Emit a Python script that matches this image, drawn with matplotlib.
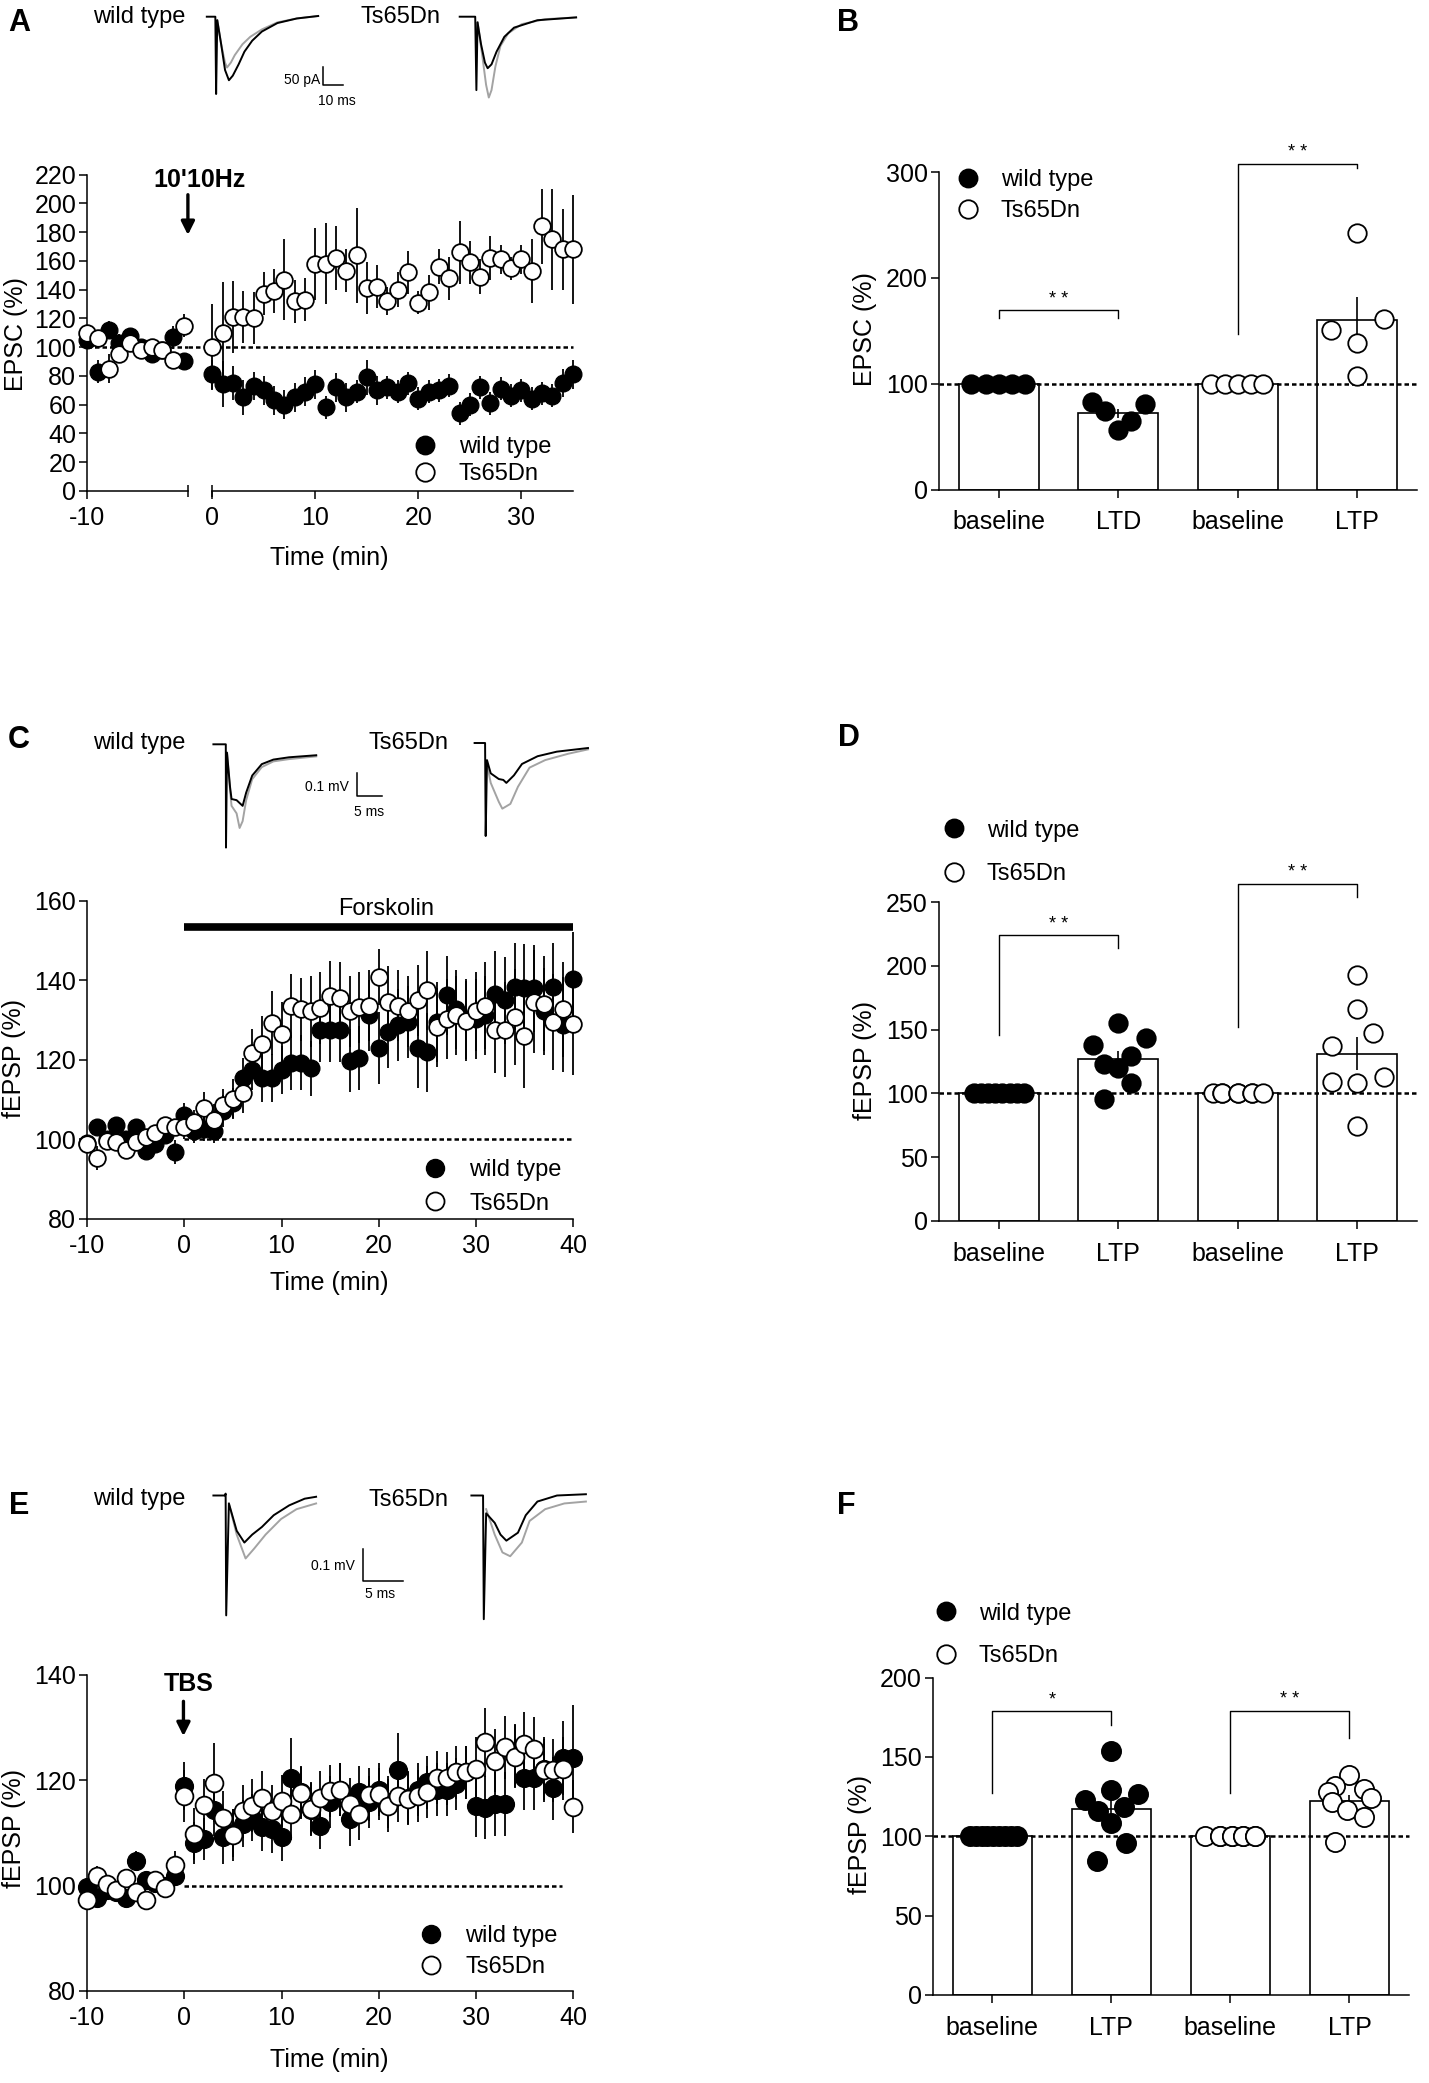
import numpy as np
import matplotlib
matplotlib.use("Agg")
import matplotlib.pyplot as plt
from matplotlib.lines import Line2D

plt.rcParams['font.family'] = ['Liberation Sans', 'DejaVu Sans']
plt.rcParams['axes.unicode_minus'] = False
plt.rcParams['axes.linewidth'] = 1.1
plt.rcParams['xtick.major.width'] = 1.1
plt.rcParams['ytick.major.width'] = 1.1
plt.rcParams['xtick.major.size'] = 6
plt.rcParams['ytick.major.size'] = 6
plt.rcParams['xtick.labelsize'] = 18
plt.rcParams['ytick.labelsize'] = 18

# ---------------- data ----------------
# panel A : EPSC time course (two x segments)
a_pre_t = [-10, -9, -8, -7, -6, -5, -4, -3, -2, -1]
a_wt_pre = [105, 83, 112, 103, 108, 100, 95, 98, 107, 90]
a_wt_pre_sem = [6, 8, 6, 6, 5, 5, 6, 5, 8, 6]
a_ts_pre = [110, 106, 85, 95, 103, 98, 100, 98, 91, 115]
a_ts_pre_sem = [5, 6, 10, 6, 5, 5, 4, 4, 5, 8]
a_post_t = list(range(0, 36))
a_wt_post = [81, 74, 75, 65, 73, 70, 63, 60, 65, 69, 74, 58, 72, 65, 69, 79, 70, 72,
             69, 75, 64, 69, 70, 73, 54, 60, 72, 61, 71, 66, 70, 64, 68, 66, 75, 81]
a_wt_post_sem = [10, 16, 12, 12, 10, 10, 10, 10, 10, 10, 10, 8, 10, 10, 8, 12, 10, 8,
                 8, 8, 8, 8, 8, 8, 8, 8, 8, 8, 8, 8, 8, 8, 8, 8, 10, 10]
a_ts_post = [100, 110, 121, 121, 120, 137, 139, 147, 132, 133, 158, 158, 162, 153, 164, 141, 142, 132,
             140, 152, 131, 138, 156, 148, 166, 159, 149, 162, 161, 155, 161, 153, 184, 175, 168, 168]
a_ts_post_sem = [30, 35, 25, 18, 18, 15, 15, 28, 15, 15, 25, 28, 22, 15, 33, 18, 15, 10,
                 12, 15, 8, 12, 12, 15, 22, 15, 12, 15, 10, 8, 10, 22, 26, 35, 28, 38]

# panel C : forskolin fEPSP
c_t = list(range(-10, 41))
c_wt = [99, 103, 100, 103.5, 100, 103, 97, 98.7, 101, 96.8, 106, 102, 102.5, 102, 107, 109,
        115.4, 117.4, 115.4, 115.4, 117.4, 119.3, 119.3, 117.8, 127.4, 127.4, 127.4, 119.8,
        120.5, 131.2, 123, 127, 128.8, 129.5, 123, 121.9, 129.5, 136.2, 132.7, 130.3, 130.3,
        131.2, 136.5, 135, 138.4, 138.1, 138, 132.2, 138.4, 128.8, 140.3]
c_wt_sem = [2, 2, 2, 2, 2, 2, 2, 2, 2, 3, 3, 3, 3, 3, 4, 4,
            5, 5, 6, 6, 6, 7, 7, 7, 8, 8, 8, 8,
            8, 9, 9, 9, 9, 9, 10, 10, 10, 10, 10, 10, 10,
            10, 11, 11, 11, 11, 11, 11, 11, 12, 12]
c_ts = [98.7, 95.3, 99.6, 99.2, 97.2, 99.2, 100.6, 101.5, 103.5, 103, 103, 104.4, 107.8, 104.9,
        108.7, 110.2, 111.6, 121.7, 124, 129.3, 126.6, 133.6, 132.7, 132.2, 133, 136, 135.6,
        132.2, 133.2, 133.6, 140.8, 134.6, 133.6, 132.2, 135, 137.5, 128.2, 130.3, 131.2,
        129.8, 132.2, 133.6, 127.6, 127.6, 130.8, 126, 134.6, 134.1, 129.5, 132.7, 129.1]
c_ts_sem = [2, 3, 2, 2, 2, 2, 2, 2, 2, 2, 3, 3, 4, 4,
            4, 5, 5, 6, 7, 8, 8, 8, 8, 9, 9, 9, 9,
            9, 9, 9, 7, 9, 9, 9, 9, 10, 10, 10, 10,
            10, 10, 11, 11, 12, 12, 13, 13, 12, 12, 12, 13]
forskolin_on, forskolin_off, forskolin_level = 0, 40, 153.5

# panel E : TBS fEPSP
e_t = list(range(-10, 41))
e_wt = [99.7, 97.7, 99.1, 98.8, 97.7, 104.7, 101, 100.6, 99.9, 101.8, 118.9, 108.1, 108.8,
        114.4, 109.2, 110, 111.8, 112.9, 111.1, 110.7, 109.2, 120.5, 117.8, 114.4, 111.4,
        115.9, 118.2, 112.6, 117.8, 115.9, 118.2, 115.9, 121.9, 116.7, 118.2, 119.6, 118.2,
        118.2, 119.3, 121.5, 115.2, 114.8, 115.5, 115.5, 124.7, 120.4, 120.4, 122.2, 118.5,
        124.3, 124.3]
e_wt_sem = [1.5, 2, 1.5, 1.5, 1.5, 1.8, 1.5, 1.5, 1.5, 1.8, 4.5, 4, 4,
            5, 5, 4.5, 4.5, 4.5, 4.5, 4.5, 4.5, 7.5, 5, 5, 4.5,
            5, 5, 5, 5, 5, 5, 5, 7, 5, 5, 5, 5,
            5, 5, 5, 6, 6, 6, 6, 6, 6, 6, 6, 6,
            7, 10]
e_ts = [97.3, 101.8, 100.3, 99.2, 101.4, 98.8, 97.3, 101, 99.5, 104, 117, 109.8, 115.3, 119.5,
        112.9, 109.6, 114.1, 115.2, 116.7, 114.1, 116.1, 113.7, 117.6, 114.6, 116.7, 118,
        118.2, 115.5, 113.7, 117.3, 117.4, 115.2, 117, 116.5, 117, 117.8, 120.5, 120.4,
        121.5, 121.5, 122.2, 127.2, 123.7, 126.3, 124.5, 126.9, 126, 121.9, 121.9, 122.2, 115]
e_ts_sem = [2, 2, 1.5, 1.5, 1.5, 1.5, 1.5, 1.5, 1.5, 2.5, 5, 5, 5, 7.5,
            5, 5, 5, 5, 5, 5, 5, 5, 5, 5, 5, 5,
            5, 5, 5, 5, 5, 5, 5, 5, 5, 5, 5, 5,
            5, 5, 6, 6.6, 6, 6, 6, 6, 6, 6, 6, 6, 5]

series_names = ['wild type', 'Ts65Dn']

# bar panels
b_labels = ['baseline', 'LTD', 'baseline', 'LTP']
b_means = [100, 72, 100, 160]
b_sems = [0, 4.5, 0, 22]
b_points = [[100, 100, 100, 100, 100], [83, 74, 56, 65, 81],
            [100, 100, 100, 100, 100], [151, 242, 138, 107, 161]]
b_jitter = [[-0.23, -0.11, 0, 0.11, 0.22], [-0.22, -0.11, 0, 0.11, 0.22],
            [-0.22, -0.11, 0, 0.11, 0.21], [-0.22, 0, 0, 0, 0.22]]
b_brackets = [(0, 1, 169.5, 162.5, 162.5, '* *'), (2, 3, 308, 147, 303.5, '* *')]

d_labels = ['baseline', 'LTP', 'baseline', 'LTP']
d_means = [100, 126.6, 100, 131]
d_sems = [0, 6.5, 0, 13]
d_points = [[100] * 8, [138, 155, 143.6, 123, 129, 120, 108, 96],
            [100] * 8, [193, 166, 147, 137, 109, 108, 113, 74.5]]
d_jitter = [[-0.21, -0.15, -0.09, -0.03, 0.03, 0.09, 0.15, 0.21],
            [-0.21, 0, 0.23, -0.12, 0.11, 0, 0.11, -0.12],
            [-0.21, -0.13, -0.13, 0, 0, 0.12, 0.12, 0.21],
            [0, 0, 0.13, -0.21, -0.21, 0, 0.22, 0]]
d_brackets = [(0, 1, 224, 146, 214, '* *'), (2, 3, 264.4, 152, 254, '* *')]

f_labels = ['baseline', 'LTP', 'baseline', 'LTP']
f_means = [100, 117.2, 100, 122.2]
f_sems = [0, 5.5, 0, 4]
f_points = [[100] * 9, [153.7, 128.9, 123, 126.4, 115.7, 118.2, 108.2, 95.8, 84.6],
            [100] * 9, [138.8, 131.8, 129.9, 128.1, 124.4, 121.9, 116.4, 112.4, 96.3]]
f_jitter = [[-0.19, -0.14, -0.09, -0.04, 0.01, 0.06, 0.11, 0.16, 0.21],
            [0, 0, -0.22, 0.22, -0.11, 0.11, 0, 0.12, -0.12],
            [-0.21, -0.09, -0.09, 0.01, 0.01, 0.11, 0.11, 0.21, 0.21],
            [0, -0.12, 0.12, -0.18, 0.18, -0.15, -0.02, 0.12, -0.12]]
f_brackets = [(0, 1, 179, 127.4, 170.4, '*'), (2, 3, 179, 127, 161.7, '* *')]

# example traces (time ms, amplitude) black = before, grey = after induction
a_wt_black = ([0, 4.4, 4.8, 5.4, 7.4, 9.4, 11.4, 13.4, 16.4, 19.4, 23.4, 28.4, 36.4, 46.4, 57.4],
              [0, 0, -219, -10, -78, -151, -180, -167, -135, -99, -68, -42, -18, -5, 2])
a_wt_grey = ([5.4, 7.4, 9.4, 10.4, 12.4, 14.4, 18.4, 22.4, 28.4, 36.4, 46.4, 57.4],
             [-10, -78, -130, -144, -130, -109, -78, -57, -36, -16, -5, 2])
a_ts_black = ([0, 8, 8.6, 9.2, 11, 13, 14.4, 16.4, 19, 23, 28, 40, 60],
              [0, 0, -208, -16, -78, -130, -146, -135, -99, -57, -31, -10, -2])
a_ts_grey = ([9.2, 11.6, 13.6, 15, 16.4, 18.4, 21, 25, 32, 44, 60],
             [-16, -109, -193, -229, -208, -141, -83, -47, -21, -7, -2])

c_wt_black = ([0, 2.46, 2.5, 2.7, 3.3, 3.6, 4.6, 5.8, 6.5, 7.7, 9.6, 11.9, 15, 20.4],
              [0, 0, -0.453, -0.037, -0.187, -0.24, -0.245, -0.27, -0.212, -0.137, -0.087,
               -0.067, -0.057, -0.048])
c_wt_grey = ([2.7, 3.3, 3.6, 4.6, 5.2, 5.8, 6.5, 7.7, 9.6, 11.9, 15, 20.4],
             [-0.037, -0.2, -0.27, -0.303, -0.367, -0.337, -0.245, -0.153, -0.1, -0.075, -0.065,
              -0.053])
c_ts_black = ([0, 2.08, 2.2, 2.46, 3.2, 4.8, 5.7, 6.3, 7.8, 9.4, 12.5, 16.3, 22.5],
              [0, 0, -0.408, -0.075, -0.133, -0.158, -0.162, -0.175, -0.142, -0.092, -0.058,
               -0.038, -0.022])
c_ts_grey = ([2.46, 3.2, 4.8, 5.5, 7.1, 8.6, 10.9, 14, 18.6, 22.5],
             [-0.092, -0.175, -0.258, -0.288, -0.267, -0.192, -0.108, -0.075, -0.047, -0.028])

e_wt_black = ([0, 1.43, 1.5, 1.57, 1.9, 2.86, 3.8, 4.76, 5.95, 7.4, 9.3, 11.2, 12.6],
              [0, 0, 0.006, -0.377, -0.025, -0.111, -0.148, -0.123, -0.099, -0.062, -0.031,
               -0.01, -0.004])
e_wt_grey = ([1.9, 2.86, 3.95, 5.0, 6.4, 8.3, 10.2, 12.6],
             [-0.025, -0.123, -0.198, -0.167, -0.123, -0.074, -0.043, -0.025])
e_ts_black = ([0, 1.43, 1.52, 1.81, 2.86, 3.57, 4.29, 5.71, 6.67, 8.1, 10.5, 14.05],
              [0, 0, -0.389, -0.056, -0.086, -0.123, -0.142, -0.117, -0.062, -0.019, 0, 0.004])
e_ts_grey = ([1.81, 2.86, 3.81, 4.76, 6.19, 7.14, 9.05, 11.4, 14.05],
             [-0.043, -0.123, -0.179, -0.191, -0.148, -0.080, -0.043, -0.025, -0.019])

# ---------------- figure ----------------
W, H = 1429, 2083
fig = plt.figure(figsize=(W / 100, H / 100), dpi=100)
DASH = (0, (1.8, 1.2))
FS = 17


def rect(x0, y0, x1, y1):
    return [x0 / W, 1 - y1 / H, (x1 - x0) / W, (y1 - y0) / H]


def style(ax):
    for s in ('top', 'right'):
        ax.spines[s].set_visible(False)
    ax.patch.set_visible(False)
    ax.tick_params(direction='out', pad=2)
    ax.tick_params(axis='x', pad=5)


def draw_series(ax, t, wt, wt_sem, ts, ts_sem, ms):
    t = np.asarray(t)
    for vals, sem in ((wt, wt_sem), (ts, ts_sem)):
        eb = ax.errorbar(t, vals, yerr=sem, fmt='none', ecolor='black',
                         elinewidth=1.3, capsize=0, zorder=2)
        for c in eb.lines[2]:
            c.set_clip_on(False)
    ax.plot(t, wt, 'o', ms=ms, mfc='black', mec='black', mew=1.0, zorder=3, clip_on=False)
    ax.plot(t, ts, 'o', ms=ms, mfc='white', mec='black', mew=1.3, zorder=4, clip_on=False)


def legend_at(ax, xm, ymid, spacing, ms, pad=0.95):
    handles = [Line2D([], [], ls='none', marker='o', ms=ms, mfc='black', mec='black'),
               Line2D([], [], ls='none', marker='o', ms=ms, mfc='white', mec='black', mew=1.3)]
    px, py = ax.transData.transform((xm, ymid))
    fx, fy = ax.transAxes.inverted().transform((px, py))
    fx -= 0.5 * FS * 100 / 72 / ax.bbox.width
    ax.legend(handles, series_names, loc='center left', bbox_to_anchor=(fx, fy),
              frameon=False, fontsize=FS, handlelength=1.0, handletextpad=pad,
              labelspacing=spacing, borderpad=0, borderaxespad=0)


def trace_axes(x0, y0, sx, sy, xlim, ylim):
    ax = fig.add_axes(rect(x0 + xlim[0] * sx, y0 - ylim[1] * sy,
                           x0 + xlim[1] * sx, y0 - ylim[0] * sy))
    ax.set_xlim(xlim)
    ax.set_ylim(ylim)
    ax.axis('off')
    return ax


def draw_trace(ax, black, grey):
    ax.plot(grey[0], grey[1], color='#a3a3a3', lw=1.4, clip_on=False)
    ax.plot(black[0], black[1], color='black', lw=1.4, clip_on=False)


def scale_bar(ax, x, y, dx, dy, ylab, xlab, ylab_pos, xlab_pos):
    ax.plot([x, x, x + dx], [y + dy, y, y], color='black', lw=1.1, clip_on=False)
    ax.text(ylab_pos[0], ylab_pos[1], ylab, ha='right', va='center', fontsize=10)
    ax.text(xlab_pos[0], xlab_pos[1], xlab, ha='center', va='center', fontsize=10)


def bar_panel(ax, labels, means, sems, points, jitter, ymax, ystep, brackets, ms):
    x = np.arange(len(labels))
    ax.bar(x, means, width=0.667, color='white', edgecolor='black', linewidth=1.2, zorder=1)
    ax.plot([-0.5, 3.5], [100, 100], color='black', lw=1.8, ls=DASH, zorder=2, clip_on=False)
    for i in x:
        if sems[i] > 0:
            ax.errorbar(i, means[i], yerr=sems[i], fmt='none', ecolor='black',
                        elinewidth=1.2, capsize=0, zorder=2.5)
        filled = i < 2
        ax.plot(i + np.asarray(jitter[i]), points[i], 'o', ms=ms,
                mfc='black' if filled else 'white', mec='black', mew=1.3,
                zorder=3, clip_on=False)
    ax.set_xlim(-0.5, 3.5)
    ax.set_ylim(0, ymax)
    ax.set_xticks(x)
    ax.set_xticklabels(labels)
    ax.set_yticks(np.arange(0, ymax + 1, ystep))
    for i0, i1, ytop, yl, yr, star in brackets:
        ax.plot([i0, i0, i1, i1], [yl, ytop, ytop, yr], color='black', lw=1.0, clip_on=False)
        ax.annotate(star, ((i0 + i1) / 2, ytop), xytext=(0, 8), textcoords='offset points',
                    ha='center', va='center', fontsize=13, annotation_clip=False)
    style(ax)
    ax.tick_params(axis='x', pad=9)


# ---- panel A ----
axl = fig.add_axes(rect(87.3, 174.6, 187.9, 490.8))
axr = fig.add_axes(rect(212.3, 174.6, 572.9, 490.8))
left_end = -0.6
for ax in (axl, axr):
    style(ax)
    ax.set_ylim(0, 220)
axl.set_xlim(-10, left_end)
axr.set_xlim(0, 35)
axl.set_yticks(np.arange(0, 221, 20))
axl.set_xticks([-10])
axr.set_xticks([0, 10, 20, 30])
axr.spines['left'].set_visible(False)
axr.tick_params(axis='y', left=False, labelleft=False)
axl.plot([-10, left_end], [100, 100], color='black', lw=1.8, ls=DASH, zorder=1)
axr.plot([-2.38, 35], [100, 100], color='black', lw=1.8, ls=DASH, zorder=1, clip_on=False)
axl.plot([left_end], [0], marker='|', ms=9, mew=1.1, color='black', clip_on=False)
axr.plot([0], [0], marker='|', ms=9, mew=1.1, color='black', clip_on=False)
draw_series(axl, a_pre_t, a_wt_pre, a_wt_pre_sem, a_ts_pre, a_ts_pre_sem, 12)
draw_series(axr, a_post_t, a_wt_post, a_wt_post_sem, a_ts_post, a_ts_post_sem, 12)
axl.annotate('', xy=(left_end, 178), xytext=(left_end, 206), annotation_clip=False,
             arrowprops=dict(arrowstyle='-|>', color='black', lw=2.4, mutation_scale=20,
                             shrinkA=0, shrinkB=0))
axl.text(0.48, 216, "10'10Hz", ha='center', va='center', fontsize=18, fontweight='bold',
         zorder=10)
legend_at(axr, 20.6, 21, 0.2, 13.3)

# ---- panel C ----
axc = fig.add_axes(rect(87.3, 901, 572.9, 1218.5))
style(axc)
axc.plot([0, 40], [100, 100], color='black', lw=1.8, ls=DASH, zorder=1)
draw_series(axc, c_t, c_wt, c_wt_sem, c_ts, c_ts_sem, 12)
axc.plot([forskolin_on, forskolin_off], [forskolin_level, forskolin_level], color='black',
         lw=5.5, solid_capstyle='butt', clip_on=False)
axc.text((forskolin_on + forskolin_off) / 2 + 0.8, 157.9, 'Forskolin', ha='center',
         va='center', fontsize=FS)
axc.set_xlim(-10, 40)
axc.set_ylim(80, 160)
axc.set_xticks(np.arange(-10, 41, 10))
axc.set_yticks(np.arange(80, 161, 20))
legend_at(axc, 25.8, 88, 0.5, 13)

# ---- panel E ----
axe = fig.add_axes(rect(87.3, 1675, 572.9, 1991))
style(axe)
axe.plot([0, 38.9], [100, 100], color='black', lw=1.8, ls=DASH, zorder=1)
draw_series(axe, e_t, e_wt, e_wt_sem, e_ts, e_ts_sem, 12.8)
axe.annotate('', xy=(-0.1, 128.4), xytext=(-0.1, 135), annotation_clip=False,
             arrowprops=dict(arrowstyle='-|>', color='black', lw=2.4, mutation_scale=20,
                             shrinkA=0, shrinkB=0))
axe.text(0.4, 138.3, 'TBS', ha='center', va='center', fontsize=18, fontweight='bold')
axe.set_xlim(-10, 40)
axe.set_ylim(80, 140)
axe.set_xticks(np.arange(-10, 41, 10))
axe.set_yticks(np.arange(80, 141, 20))
legend_at(axe, 25.4, 87.45, 0.4, 13)

# ---- bar panels ----
axb = fig.add_axes(rect(939, 172, 1417, 489.5))
bar_panel(axb, b_labels, b_means, b_sems, b_points, b_jitter, 300, 100, b_brackets, 13.3)
legend_at(axb, -0.26, 277.5, 0.38, 13.3, pad=0.9)

axd = fig.add_axes(rect(939, 902, 1417, 1221))
bar_panel(axd, d_labels, d_means, d_sems, d_points, d_jitter, 250, 50, d_brackets, 13.3)
legend_at(axd, -0.376, 289, 0.9, 13.3, pad=0.9)

axf = fig.add_axes(rect(932.7, 1677.6, 1409, 1995))
bar_panel(axf, f_labels, f_means, f_sems, f_points, f_jitter, 200, 50, f_brackets, 13.8)
legend_at(axf, -0.39, 227, 0.85, 13.3, pad=0.9)

# ---- traces ----
t1 = trace_axes(206.8, 16.7, 1.94, 0.353, (0, 80), (-260, 10))
draw_trace(t1, a_wt_black, a_wt_grey)
scale_bar(t1, 60, -193, 10, 50, '50 pA', '10 ms', (58.5, -180), (67, -240))
t2 = trace_axes(459.7, 16.7, 1.94, 0.353, (0, 80), (-260, 10))
draw_trace(t2, a_ts_black, a_ts_grey)

t3 = trace_axes(213.4, 744.3, 5.04, 228, (0, 36), (-0.5, 0.02))
draw_trace(t3, c_wt_black, c_wt_grey)
scale_bar(t3, 28.5, -0.228, 5, 0.1, '0.1 mV', '5 ms', (26.9, -0.187), (30.8, -0.295))
t4 = trace_axes(474.6, 743, 5.04, 228, (0, 36), (-0.5, 0.02))
draw_trace(t4, c_ts_black, c_ts_grey)

t5 = trace_axes(213.4, 1495.5, 8.15, 318, (0, 25), (-0.42, 0.02))
draw_trace(t5, e_wt_black, e_wt_grey)
scale_bar(t5, 18.3, -0.269, 5, 0.1, '0.1 mV', '5 ms', (17.4, -0.222), (20.5, -0.311))
t6 = trace_axes(471.4, 1495.5, 8.15, 318, (0, 25), (-0.42, 0.02))
draw_trace(t6, e_ts_black, e_ts_grey)

# ---- free text: panel letters, trace titles, axis labels ----
def ftext(x, y, s, **kw):
    fig.text(x / W, 1 - y / H, s, ha='center', va='center', **kw)

for letter, (x, y) in zip('ABCDEF', [(19, 23), (848, 23), (19, 740),
                                     (849, 738), (19, 1506), (846, 1506)]):
    ftext(x, y, letter, fontsize=22, fontweight='bold')

for y in (16.7, 743, 1499.5):
    ftext(139.7, y, 'wild type', fontsize=FS)
ftext(400.9, 16.7, 'Ts65Dn', fontsize=FS)
ftext(408.5, 743, 'Ts65Dn', fontsize=FS)
ftext(408.5, 1499.5, 'Ts65Dn', fontsize=FS)

ftext(16, 334, 'EPSC (%)', fontsize=18, rotation=90)
ftext(14, 1058, 'fEPSP (%)', fontsize=18, rotation=90)
ftext(14, 1829, 'fEPSP (%)', fontsize=18, rotation=90)
ftext(865, 329, 'EPSC (%)', fontsize=18, rotation=90)
ftext(865, 1060, 'fEPSP (%)', fontsize=18, rotation=90)
ftext(860, 1835, 'fEPSP (%)', fontsize=18, rotation=90)
ftext(329.6, 558, 'Time (min)', fontsize=18)
ftext(329.6, 1283, 'Time (min)', fontsize=18)
ftext(329.6, 2060, 'Time (min)', fontsize=18)

fig.savefig('out.png', dpi=100, facecolor='white')
